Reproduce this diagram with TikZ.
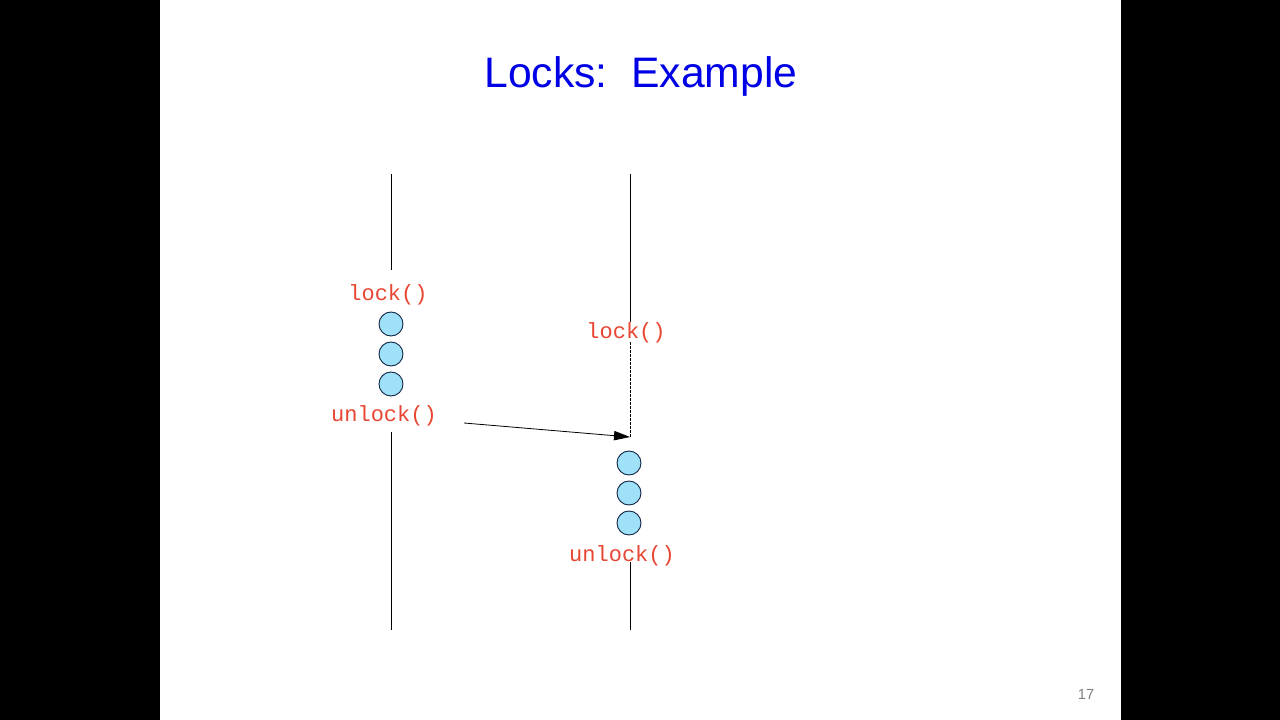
\documentclass[tikz,border=0pt]{standalone}
\usepackage{fontspec}
\setmainfont{Liberation Sans}
\newfontfamily\codefont{Liberation Mono}
\usetikzlibrary{arrows.meta}
\definecolor{titleblue}{RGB}{0,0,230}
\definecolor{codered}{RGB}{232,70,50}
\definecolor{ballfill}{RGB}{160,225,250}
\definecolor{balledge}{RGB}{20,40,70}
\begin{document}
\begin{tikzpicture}[x=0.75pt,y=-0.75pt,
  code/.style={text=codered,font=\codefont\fontsize{16.5}{18}\selectfont,inner sep=0pt},
  ball/.style={circle,draw=balledge,fill=ballfill,line width=0.7pt,minimum size=18pt,inner sep=0pt},
  tl/.style={line width=0.75pt,black}]
\fill[black] (0,0) rectangle (1280,720);
\fill[white] (160,0) rectangle (1121,720);
\useasboundingbox (0,0) rectangle (1280,720);
\node[text=titleblue,font=\fontsize{32}{36}\selectfont] (title) at (641,76) {Locks:\ \ Example};
% left thread
\coordinate (l0) at (391,174);
\coordinate (l1) at (391,270);
\coordinate (l2) at (391,432);
\coordinate (l3) at (391,630);
\node[code] (llock) at (388,295) {lock()};
\node[ball] (lb1) at (391,324) {};
\node[ball] (lb2) at (391,354) {};
\node[ball] (lb3) at (391,384) {};
\node[code] (lunlock) at (384,416) {unlock()};
\draw[tl] (l0) -- (l1);
\draw[tl] (l2) -- (l3);
% right thread
\coordinate (r0) at (630,174);
\coordinate (r1) at (630,322);
\coordinate (r2) at (630,342);
\coordinate (r3) at (630,437);
\coordinate (r4) at (630,562);
\coordinate (r5) at (630,630);
\draw[tl] (r0) -- (r1);
\node[code] (rlock) at (626,333) {lock()};
\draw[line width=0.6pt,dash pattern=on 2pt off 1pt] (r2) -- (r3);
\node[ball] (rb1) at (629,463) {};
\node[ball] (rb2) at (629,493) {};
\node[ball] (rb3) at (629,523) {};
\node[code] (runlock) at (622,556) {unlock()};
\draw[tl] (r4) -- (r5);
% signal arrow
\coordinate (a0) at (464,423);
\draw[line width=0.6pt,-{Triangle[length=12pt,width=7pt]}] (a0) -- (r3);
% page number
\node[text=gray,font=\fontsize{11}{13}\selectfont] (pg) at (1086,694) {17};
\end{tikzpicture}
\end{document}
